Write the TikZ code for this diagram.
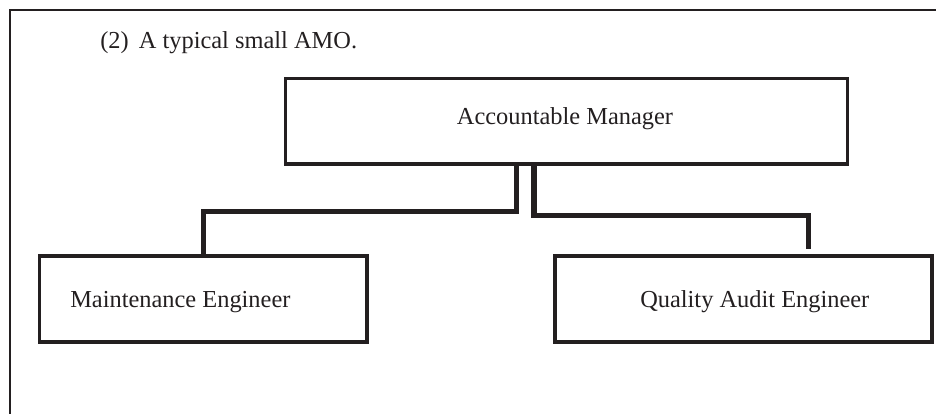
\documentclass[tikz,border=0pt]{standalone}
\usepackage{fontspec}
\setmainfont{Liberation Serif}
\definecolor{ink}{HTML}{231F20}
\begin{document}
\begin{tikzpicture}[x=0.75pt,y=-0.75pt,
  box/.style={draw=ink,line width=2.3pt,inner sep=0pt,minimum height=64.5pt},
  lbl/.style={inner sep=0pt,text=ink,font=\fontsize{18.3pt}{22pt}\selectfont},
  conn/.style={draw=ink,line width=3.8pt},
  frame/.style={draw=ink,line width=2.2pt}]
\useasboundingbox (0,0) rectangle (936,414);
% outer frame (top and left edges only)
\draw[frame] (936,10) -- (10,10) -- (10,414);
% title
\node[lbl,anchor=base west] (title) at (100,48) {(2)\, A typical small AMO.};
% boxes
\node[box,minimum width=421.5pt,minimum height=64.1pt] (AM) at (566.5,121.25) {};
\node[box,minimum width=245.6pt] (ME) at (203.25,299) {};
\node[box,minimum width=282.75pt] (QAE) at (743.5,299) {};
% labels
\node[lbl] (AMt) at (565,119) {Accountable Manager};
\node[lbl,anchor=west] (MEt) at (70,302) {Maintenance Engineer};
\node[lbl,anchor=west] (QAEt) at (640,302) {Quality Audit Engineer};
% connectors
\coordinate (lbend) at (516.5,211.5);
\coordinate (rbend) at (534,215.5);
\coordinate (rend) at (808.5,249);
\draw[conn] (lbend |- AM.south) -- (lbend) -| (ME.north);
\draw[conn] (rbend |- AM.south) -- (rbend) -| (rend);
\end{tikzpicture}
\end{document}
